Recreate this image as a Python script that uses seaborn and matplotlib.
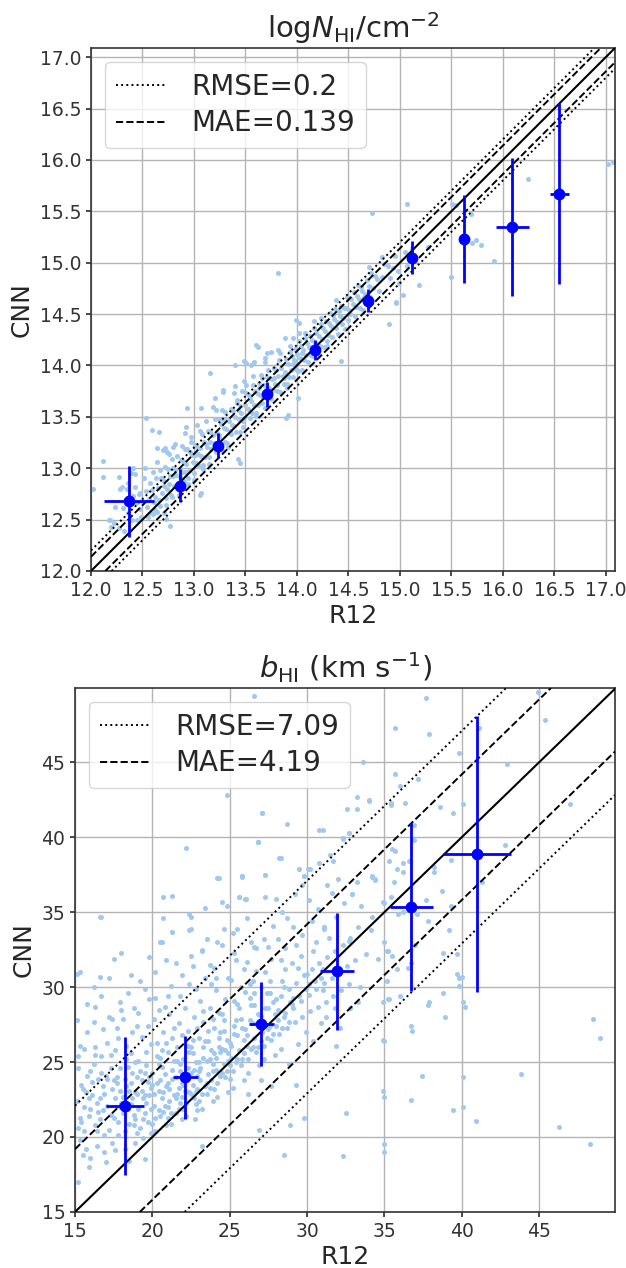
import matplotlib
matplotlib.use("Agg")
import matplotlib.pyplot as plt
import seaborn as sns
import pandas as pd

# ---------------- panel 1 : log N_HI ----------------
nhi_title = r"$\mathrm{log}N_{\rm HI}/{\rm cm}^{-2}$"
nhi_rmse = 0.2
nhi_mae = 0.139
nhi_lim = (12.0, 17.09)
nhi_ticks = [12.0, 12.5, 13.0, 13.5, 14.0, 14.5, 15.0, 15.5, 16.0, 16.5, 17.0]

nhi_bin_x = [12.37, 12.86, 13.23, 13.71, 14.18, 14.69, 15.12, 15.62, 16.09, 16.55]
nhi_bin_y = [12.68, 12.83, 13.22, 13.72, 14.15, 14.63, 15.05, 15.23, 15.35, 15.67]
nhi_bin_xerr = [0.245, 0.03, 0.03, 0.03, 0.03, 0.03, 0.03, 0.03, 0.16, 0.09]
nhi_bin_yerr = [0.345, 0.16, 0.12, 0.12, 0.10, 0.11, 0.16, 0.43, 0.67, 0.88]

nhi_points = [
    (12.22, 12.47), (12.23, 12.62), (12.27, 12.42), (12.28, 12.80), (12.31, 12.61), (12.32, 12.39), (12.35, 12.80), (12.36, 12.56),
    (12.40, 12.50), (12.41, 12.73), (12.39, 12.95), (12.44, 12.66), (12.45, 12.50), (12.43, 12.82), (12.47, 12.75), (12.48, 12.60),
    (12.50, 12.68), (12.51, 12.90), (12.49, 12.53), (12.53, 12.78), (12.54, 12.62), (12.52, 13.00), (12.55, 12.53),
    (12.56, 12.70), (12.57, 12.86), (12.58, 12.56), (12.59, 12.79), (12.60, 12.96), (12.61, 12.67), (12.60, 12.55),
    (12.62, 12.72), (12.63, 12.90), (12.64, 13.06), (12.62, 12.59), (12.65, 12.81), (12.66, 12.69), (12.67, 12.98), (12.64, 12.57),
    (12.68, 12.90), (12.69, 12.76), (12.70, 13.18), (12.67, 12.63), (12.71, 12.83), (12.72, 13.01), (12.73, 12.71), (12.70, 12.89),
    (12.74, 12.80), (12.75, 12.99), (12.76, 13.14), (12.73, 12.64), (12.77, 12.92), (12.78, 12.74), (12.79, 13.09), (12.76, 12.85),
    (12.80, 13.00), (12.81, 12.83), (12.82, 13.24), (12.79, 12.72), (12.80, 12.92), (12.83, 12.93), (12.84, 13.12), (12.85, 12.79), (12.82, 12.98),
    (12.86, 12.91), (12.87, 13.08), (12.88, 13.22), (12.85, 12.74), (12.86, 12.99), (12.89, 13.07), (12.90, 12.88), (12.91, 13.19), (12.88, 12.96),
    (12.92, 13.04), (12.93, 13.19), (12.94, 12.85), (12.91, 12.96), (12.92, 13.40), (12.95, 12.97), (12.96, 13.16), (12.97, 13.30), (12.94, 12.90),
    (12.98, 13.13), (12.99, 13.06), (13.00, 12.89), (12.97, 13.26), (13.01, 13.23), (13.02, 13.05), (13.03, 13.42), (13.00, 12.95), (13.01, 13.13),
    (13.04, 13.14), (13.05, 13.02), (13.06, 13.36), (13.03, 13.21), (13.07, 13.12), (13.08, 13.33), (13.09, 12.99), (13.06, 13.20), (13.07, 13.59),
    (13.10, 13.26), (13.11, 13.11), (13.12, 13.46), (13.09, 13.03), (13.13, 13.21), (13.14, 13.36), (13.15, 13.11), (13.12, 13.24),
    (13.16, 13.35), (13.17, 13.19), (13.18, 13.60), (13.15, 13.04), (13.16, 13.26), (13.19, 13.25), (13.20, 13.48), (13.21, 13.16), (13.18, 13.32),
    (13.22, 13.34), (13.23, 13.21), (13.24, 13.48), (13.21, 13.57), (13.25, 13.28), (13.26, 13.43), (13.27, 13.18), (13.24, 13.32),
    (13.28, 13.48), (13.29, 13.39), (13.30, 13.26), (13.27, 13.57), (13.28, 13.74), (13.31, 13.38), (13.32, 13.25), (13.33, 13.48), (13.30, 13.55),
    (13.34, 13.46), (13.35, 13.36), (13.36, 13.58), (13.33, 13.21), (13.37, 13.42), (13.38, 13.56), (13.39, 13.73), (13.36, 13.33),
    (13.40, 13.50), (13.41, 13.35), (13.42, 13.66), (13.39, 13.41), (13.40, 13.80), (13.43, 13.57), (13.44, 13.48), (13.45, 13.35), (13.42, 13.63),
    (13.46, 13.54), (13.47, 13.75), (13.48, 13.46), (13.45, 13.61), (13.49, 13.49), (13.50, 13.62), (13.51, 13.73), (13.48, 13.40), (13.49, 13.85),
    (13.52, 13.58), (13.53, 13.71), (13.54, 13.49), (13.51, 13.81), (13.55, 13.65), (13.56, 13.54), (13.57, 13.81), (13.54, 13.68),
    (13.58, 13.62), (13.59, 13.75), (13.60, 13.51), (13.57, 13.90), (13.58, 14.03), (13.61, 13.73), (13.62, 13.62), (13.63, 13.83), (13.60, 13.54),
    (13.64, 13.71), (13.65, 13.91), (13.66, 13.63), (13.63, 13.78), (13.67, 13.69), (13.68, 13.81), (13.69, 13.59), (13.66, 13.88),
    (13.70, 13.79), (13.71, 13.89), (13.72, 13.68), (13.69, 14.03), (13.73, 13.78), (13.74, 13.88), (13.75, 13.67), (13.72, 13.96),
    (13.76, 13.87), (13.77, 13.76), (13.78, 13.98), (13.75, 14.13), (13.79, 13.82), (13.80, 13.96), (13.81, 13.75), (13.78, 13.88),
    (13.82, 13.90), (13.83, 14.05), (13.84, 13.74), (13.81, 13.81), (13.85, 13.98), (13.86, 13.90), (13.87, 13.82), (13.84, 14.12),
    (13.88, 13.94), (13.89, 14.06), (13.90, 13.82), (13.87, 13.88), (13.91, 14.01), (13.92, 13.89), (13.93, 14.13), (13.90, 13.78),
    (13.94, 13.96), (13.95, 14.09), (13.96, 13.89), (13.93, 14.19), (13.97, 14.05), (13.98, 14.16), (13.99, 13.97), (13.96, 14.01),
    (14.00, 14.11), (14.01, 13.95), (14.02, 14.24), (13.99, 14.02), (14.03, 14.07), (14.04, 14.19), (14.05, 13.96), (14.02, 14.32),
    (14.06, 14.15), (14.07, 14.05), (14.08, 14.27), (14.05, 14.12), (14.09, 14.10), (14.10, 14.22), (14.11, 14.03), (14.08, 14.32),
    (14.12, 14.18), (14.13, 14.29), (14.14, 14.10), (14.15, 14.25), (14.16, 14.09), (14.17, 14.36), (14.14, 14.18),
    (14.18, 14.22), (14.19, 14.32), (14.20, 14.10), (14.17, 14.43), (14.21, 14.29), (14.22, 14.19), (14.23, 14.40),
    (14.24, 14.26), (14.25, 14.36), (14.26, 14.18), (14.23, 14.46), (14.27, 14.34), (14.28, 14.43), (14.29, 14.24),
    (14.30, 14.30), (14.31, 14.41), (14.32, 14.51), (14.29, 14.19), (14.33, 14.38), (14.34, 14.28), (14.35, 14.49),
    (14.36, 14.45), (14.37, 14.55), (14.38, 14.36), (14.39, 14.42), (14.40, 14.31), (14.41, 14.53), (14.38, 14.64),
    (14.42, 14.48), (14.43, 14.58), (14.44, 14.40), (14.45, 14.46), (14.46, 14.56), (14.47, 14.35),
    (14.48, 14.56), (14.49, 14.67), (14.50, 14.44), (14.51, 14.54), (14.52, 14.50), (14.53, 14.65),
    (14.54, 14.60), (14.55, 14.71), (14.56, 14.48), (14.57, 14.57), (14.58, 14.68), (14.59, 14.78),
    (14.60, 14.65), (14.61, 14.56), (14.62, 14.76), (14.63, 14.72), (14.64, 14.54), (14.65, 14.67),
    (14.66, 14.70), (14.68, 14.83), (14.70, 14.77), (14.71, 14.67), (14.72, 14.90),
    (14.74, 14.75), (14.76, 14.87), (14.78, 14.84), (14.80, 14.72), (14.83, 14.86), (14.85, 14.99),
    (14.88, 14.97), (14.90, 14.85), (14.93, 14.95), (14.95, 15.07), (14.98, 14.92), (15.05, 15.10), (15.07, 14.97), (15.12, 15.14),
    # scattered points away from the band
    (13.82, 14.90), (14.73, 15.48), (15.07, 15.57), (16.24, 15.81), (17.02, 15.96), (17.07, 15.98), (15.91, 15.02),
    (15.50, 14.86), (15.74, 15.22), (15.79, 15.17), (15.70, 15.19), (15.69, 15.47), (15.55, 15.56), (15.03, 14.69),
    (14.96, 14.62), (15.19, 14.78), (14.99, 14.80), (14.70, 14.96), (14.83, 15.06), (15.27, 15.15), (15.51, 15.57),
    (13.99, 14.44), (14.02, 14.41), (14.89, 14.40), (14.96, 14.61), (14.43, 14.04), (13.91, 13.52), (13.89, 13.49),
    (13.16, 13.93), (12.93, 13.59), (12.53, 13.49), (12.59, 13.37), (12.66, 13.35), (12.12, 12.91), (12.27, 12.91),
    (12.02, 12.80), (12.12, 13.07), (12.18, 12.50), (12.19, 12.43), (13.45, 13.05), (13.43, 13.09), (12.43, 12.94),
    (12.77, 12.44), (13.06, 12.74), (13.07, 12.76), (12.71, 12.56), (12.73, 12.51), (13.51, 14.02), (13.60, 14.20),
    (13.82, 14.15), (13.69, 14.07), (13.96, 14.27), (13.88, 14.27), (13.62, 14.18), (13.71, 14.12), (13.55, 14.00),
    (13.40, 14.00), (13.49, 14.04), (14.01, 13.68), (12.48, 12.76), (12.17, 12.50), (12.91, 13.34), (13.28, 13.76),
    (13.20, 13.68), (12.80, 13.21), (12.72, 13.20), (12.74, 13.16), (12.64, 13.20), (12.41, 13.00), (12.30, 12.82),
    (12.36, 12.86),
]

# ---------------- panel 2 : b_HI ----------------
b_title = r"$b_{\rm HI}$ (km s$^{-1}$)"
b_rmse = 7.09
b_mae = 4.19
b_xlim = (15.0, 49.9)
b_ylim = (15.0, 49.95)
b_ticks = [15, 20, 25, 30, 35, 40, 45]

b_bin_x = [18.22, 22.12, 27.04, 31.95, 36.73, 41.00]
b_bin_y = [22.09, 23.97, 27.52, 31.04, 35.37, 38.88]
b_bin_xerr = [1.22, 0.80, 0.80, 1.10, 1.40, 2.20]
b_bin_yerr = [4.60, 2.75, 2.80, 3.90, 5.60, 9.20]

b_points = [
    (15.1, 22.4), (15.3, 19.8), (15.2, 24.6), (15.1, 27.8), (15.3, 21.3), (15.2, 17.0), (15.4, 23.5), (15.1, 30.9), (15.3, 26.1), (15.2, 20.6),
    (15.6, 22.0), (15.8, 24.1), (15.7, 19.2), (15.9, 21.4), (15.6, 25.9), (15.8, 28.9), (15.7, 23.0), (15.9, 18.0), (15.6, 20.4), (15.8, 27.0),
    (16.1, 22.8), (16.3, 20.8), (16.2, 24.9), (16.0, 21.9), (16.4, 19.4), (16.2, 27.7), (16.1, 23.7), (16.3, 26.0), (16.2, 30.0), (16.4, 22.3), (16.0, 18.6),
    (16.6, 21.2), (16.8, 23.4), (16.7, 25.4), (16.9, 20.1), (16.6, 22.6), (16.8, 27.2), (16.7, 24.3), (16.9, 19.0), (16.6, 34.7), (16.8, 21.8), (16.7, 29.4),
    (17.1, 22.1), (17.3, 24.6), (17.2, 20.5), (17.4, 23.2), (17.1, 26.3), (17.3, 21.5), (17.2, 28.0), (17.4, 19.6), (17.1, 23.9), (17.3, 25.5), (17.2, 30.6), (17.0, 18.3),
    (17.6, 22.6), (17.8, 21.0), (17.7, 24.0), (17.9, 23.1), (17.6, 25.8), (17.8, 20.1), (17.7, 27.3), (17.9, 22.0), (17.6, 19.1), (17.8, 26.6), (17.7, 23.6), (17.9, 29.0),
    (18.1, 21.6), (18.3, 23.4), (18.2, 20.4), (18.4, 24.7), (18.1, 22.7), (18.3, 26.1), (18.2, 19.2), (18.4, 21.9), (18.1, 27.9), (18.3, 25.2), (18.0, 32.3), (18.4, 29.6), (18.2, 23.9),
    (18.6, 22.2), (18.8, 20.8), (18.7, 24.3), (18.9, 23.0), (18.6, 25.6), (18.8, 21.5), (18.7, 27.0), (18.9, 19.6), (18.6, 23.6), (18.8, 28.6), (18.7, 22.6), (18.9, 25.0), (18.5, 18.4),
    (19.1, 21.9), (19.3, 23.8), (19.2, 20.6), (19.4, 22.6), (19.1, 25.1), (19.3, 26.7), (19.2, 24.4), (19.4, 21.2), (19.1, 28.3), (19.3, 23.1), (19.2, 30.4), (19.4, 19.9), (19.0, 22.9),
    (19.6, 22.3), (19.8, 24.0), (19.7, 21.0), (19.9, 23.3), (19.6, 25.7), (19.8, 22.8), (19.7, 27.4), (19.9, 20.3), (19.6, 24.8), (19.8, 29.2), (19.7, 23.7), (19.9, 26.2), (19.5, 21.6),
    (20.1, 22.1), (20.3, 23.6), (20.2, 21.3), (20.4, 24.9), (20.1, 22.9), (20.3, 26.3), (20.2, 20.4), (20.4, 23.1), (20.1, 27.9), (20.3, 25.4), (20.2, 31.0), (20.0, 24.3), (20.4, 21.8), (20.2, 29.3),
    (20.6, 22.6), (20.8, 24.2), (20.7, 21.7), (20.9, 23.4), (20.6, 25.8), (20.8, 22.1), (20.7, 27.0), (20.9, 20.8), (20.6, 24.7), (20.8, 28.7), (20.7, 23.0), (20.9, 26.3), (20.5, 33.0), (20.7, 36.0),
    (21.1, 22.4), (21.3, 23.9), (21.2, 21.6), (21.4, 25.1), (21.1, 23.2), (21.3, 26.6), (21.2, 20.9), (21.4, 22.8), (21.1, 28.2), (21.3, 24.5), (21.2, 30.1), (21.0, 22.0), (21.4, 27.3), (21.3, 33.7), (21.3, 36.1),
    (21.6, 22.9), (21.8, 24.4), (21.7, 21.9), (21.9, 23.6), (21.6, 26.0), (21.8, 22.3), (21.7, 27.6), (21.9, 21.2), (21.6, 25.1), (21.8, 29.4), (21.7, 23.3), (21.9, 26.8), (21.5, 31.6), (21.8, 24.9),
    (22.1, 23.1), (22.3, 24.6), (22.2, 22.3), (22.4, 25.7), (22.1, 23.8), (22.3, 27.1), (22.2, 21.4), (22.4, 23.0), (22.1, 28.6), (22.3, 26.1), (22.2, 39.3), (22.0, 24.2), (22.4, 30.2), (22.5, 34.7), (22.5, 33.9),
    (22.6, 23.5), (22.8, 25.0), (22.7, 22.6), (22.9, 24.1), (22.6, 26.5), (22.8, 23.0), (22.7, 28.0), (22.9, 21.8), (22.6, 25.6), (22.8, 29.9), (22.7, 24.5), (22.9, 27.3), (22.5, 32.1), (22.8, 22.2),
    (23.1, 23.8), (23.3, 25.3), (23.2, 22.9), (23.4, 26.4), (23.1, 24.6), (23.3, 27.7), (23.2, 21.9), (23.4, 23.4), (23.1, 29.1), (23.3, 26.0), (23.2, 32.4), (23.0, 25.0), (23.4, 30.6), (23.2, 19.4),
    (23.6, 24.2), (23.8, 25.8), (23.7, 23.3), (23.9, 24.9), (23.6, 27.1), (23.8, 23.8), (23.7, 28.6), (23.9, 22.4), (23.6, 26.4), (23.8, 30.2), (23.7, 25.2), (23.9, 27.9), (23.5, 33.2), (23.7, 31.5),
    (24.1, 24.5), (24.3, 26.0), (24.2, 23.6), (24.4, 27.0), (24.1, 25.3), (24.3, 28.3), (24.2, 22.7), (24.4, 24.1), (24.1, 29.8), (24.3, 26.6), (24.2, 37.3), (24.0, 31.3), (24.4, 25.7), (24.5, 35.7),
    (24.6, 24.9), (24.8, 26.5), (24.7, 24.0), (24.9, 25.6), (24.6, 27.8), (24.8, 24.4), (24.7, 29.2), (24.9, 23.0), (24.6, 27.1), (24.8, 42.8), (24.7, 25.8), (24.9, 30.6), (24.5, 32.8), (24.8, 35.4),
    (25.1, 25.3), (25.3, 26.9), (25.2, 24.4), (25.4, 27.8), (25.1, 26.1), (25.3, 29.1), (25.2, 23.3), (25.4, 25.0), (25.1, 30.5), (25.3, 27.4), (25.2, 33.6), (25.0, 24.8), (25.4, 31.8),
    (25.6, 25.8), (25.8, 27.3), (25.7, 24.8), (25.9, 26.5), (25.6, 28.6), (25.8, 25.2), (25.7, 30.0), (25.9, 23.8), (25.6, 36.0), (25.8, 37.4), (25.7, 27.9), (25.9, 31.2), (25.5, 33.9),
    (26.1, 26.1), (26.3, 27.8), (26.2, 25.2), (26.4, 28.8), (26.1, 26.8), (26.3, 30.2), (26.2, 24.3), (26.4, 25.9), (26.1, 31.7), (26.3, 29.3), (26.0, 35.9), (26.4, 33.0), (26.2, 22.9),
    (26.6, 26.6), (26.8, 28.2), (26.7, 25.7), (26.9, 27.4), (26.6, 29.6), (26.8, 26.0), (26.7, 31.1), (26.9, 24.8), (26.6, 28.8), (26.8, 39.7), (26.7, 32.6), (26.6, 49.4), (26.9, 20.5),
    (27.1, 27.0), (27.3, 28.6), (27.2, 26.1), (27.4, 29.6), (27.1, 27.7), (27.3, 31.0), (27.2, 25.2), (27.4, 26.6), (27.1, 41.6), (27.3, 36.0), (27.3, 37.5), (27.2, 33.2), (27.0, 23.8),
    (27.6, 27.4), (27.8, 29.0), (27.7, 26.5), (27.9, 28.2), (27.6, 30.4), (27.8, 26.9), (27.7, 31.9), (27.9, 25.5), (27.6, 29.6), (27.8, 34.1), (27.7, 23.4),
    (28.1, 27.8), (28.3, 29.4), (28.2, 26.9), (28.4, 30.4), (28.1, 28.5), (28.3, 31.8), (28.2, 38.6), (28.4, 27.3), (28.1, 33.2), (28.3, 25.9), (28.5, 18.8), (28.4, 35.0),
    (28.6, 28.3), (28.8, 29.9), (28.7, 27.3), (28.9, 29.0), (28.6, 31.2), (28.8, 27.7), (28.7, 40.9), (28.9, 20.8), (28.6, 32.6), (28.8, 24.9), (28.7, 34.6),
    (29.1, 28.6), (29.3, 30.3), (29.2, 27.7), (29.4, 31.3), (29.1, 29.3), (29.3, 32.8), (29.2, 36.2), (29.4, 26.2), (29.1, 34.0), (29.3, 23.5),
    (29.6, 29.1), (29.8, 30.8), (29.7, 28.0), (29.9, 29.9), (29.6, 32.1), (29.8, 37.4), (29.7, 33.5), (29.9, 27.0), (29.5, 37.9), (29.8, 21.3),
    (30.1, 29.5), (30.3, 31.2), (30.2, 28.4), (30.4, 32.4), (30.1, 30.2), (30.3, 34.4), (30.2, 37.9), (30.4, 26.4), (30.1, 35.8),
    (30.6, 29.9), (30.8, 31.6), (30.7, 28.7), (30.9, 30.6), (30.6, 33.0), (30.8, 40.5), (30.7, 35.2), (30.9, 27.6), (30.8, 38.3),
    (31.1, 30.3), (31.3, 32.0), (31.2, 29.0), (31.4, 33.3), (31.1, 34.0), (31.3, 36.8), (31.2, 28.0), (31.0, 31.2), (31.1, 33.9),
    (31.6, 30.6), (31.8, 32.4), (31.7, 29.4), (31.9, 34.7), (31.6, 36.3), (31.8, 28.6), (31.7, 38.4), (31.9, 26.1),
    (32.1, 31.0), (32.3, 32.8), (32.2, 29.8), (32.4, 35.6), (32.3, 39.9), (32.1, 27.3), (32.3, 18.7), (32.5, 21.6), (32.0, 37.2),
    (32.6, 31.4), (32.8, 33.3), (32.7, 30.2), (32.9, 36.2), (32.7, 40.3), (32.6, 41.9), (32.8, 28.6), (32.7, 33.1),
    (33.1, 31.8), (33.3, 34.0), (33.2, 42.7), (33.4, 30.0), (33.2, 37.0), (33.6, 45.0), (33.5, 35.4), (33.3, 29.0),
    (33.8, 32.2), (34.0, 42.4), (34.2, 37.4), (34.4, 37.2), (34.1, 33.8), (34.6, 31.9), (34.9, 26.5), (35.0, 22.7), (35.0, 19.0),
    (34.9, 35.7), (35.0, 33.0), (35.15, 32.4), (35.15, 30.4), (34.93, 29.0), (35.26, 29.2),
    (35.7, 47.3), (35.7, 44.2), (36.0, 43.4), (36.3, 42.3), (35.4, 42.3), (36.9, 39.8), (36.9, 40.8), (37.7, 49.3), (37.9, 46.9),
    (38.2, 38.0), (38.6, 42.0), (38.7, 36.4), (39.4, 41.6), (39.8, 45.6), (40.1, 42.2), (41.1, 47.3), (42.9, 44.9), (42.8, 39.5),
    (44.9, 49.7), (45.4, 47.8), (47.0, 42.2), (39.3, 38.5), (37.2, 43.9), (34.0, 42.5), (35.4, 42.15), (31.5, 38.8),
    (29.7, 36.8), (32.9, 36.2), (34.2, 34.7), (35.0, 35.6), (35.8, 37.9), (36.2, 37.7), (39.2, 33.8), (37.7, 35.8), (39.7, 32.2),
    (40.0, 30.7), (38.8, 29.6), (37.8, 28.8), (35.5, 39.2), (35.7, 39.1), (35.3, 38.4), (36.2, 38.3), (36.6, 38.4), (35.6, 37.0),
    (35.4, 36.0), (35.9, 34.9), (36.2, 35.0), (37.1, 34.9), (37.8, 34.4), (35.2, 32.4), (35.5, 32.1), (35.8, 31.2), (36.5, 31.3),
    (36.7, 31.6), (37.0, 32.8), (35.3, 29.2), (36.0, 29.4), (39.3, 35.4), (41.3, 37.0), (38.2, 37.7),
    (37.4, 24.1), (43.8, 24.2), (40.1, 24.0), (34.9, 23.1), (36.7, 22.5), (39.4, 21.8), (40.1, 22.0), (40.9, 21.1), (46.3, 20.7),
    (48.3, 19.5), (35.0, 19.5), (48.5, 27.9), (48.9, 26.6), (36.7, 27.4), (37.9, 29.0), (40.1, 29.0), (38.9, 28.0), (39.8, 30.1),
    (39.7, 30.9), (38.8, 32.3), (40.2, 28.7), (39.8, 30.6), (35.0, 26.4), (36.8, 27.1), (19.5, 18.5), (22.75, 21.2),
    (16.7, 34.7), (20.7, 34.6), (22.4, 33.8), (22.4, 34.9), (23.4, 35.3), (26.6, 32.7), (15.3, 31.0), (16.6, 30.7), (20.6, 33.0),
    (23.2, 32.5), (24.2, 33.0), (21.3, 33.7), (24.3, 37.3), (25.6, 36.0), (26.05, 35.9), (25.8, 37.4), (26.8, 39.7), (27.1, 41.6),
    (28.3, 38.6), (29.5, 37.9), (30.06, 37.9), (29.8, 37.4), (31.0, 40.5), (31.1, 34.0), (32.3, 39.95), (32.7, 40.3), (33.2, 41.9),
    (34.2, 37.37), (34.4, 37.15), (26.8, 39.7), (27.3, 37.5), (25.8, 37.37),
    # extra points filling the dense core
    (16.5, 21.7), (16.9, 22.9), (17.0, 24.1), (17.5, 21.3), (17.5, 23.8), (17.9, 24.6), (18.0, 22.3), (18.5, 23.1), (18.5, 20.9),
    (18.9, 21.2), (19.0, 24.0), (19.0, 20.3), (19.5, 22.8), (19.5, 24.3), (19.9, 21.9), (20.0, 23.5), (20.0, 20.9), (20.5, 21.4),
    (20.5, 23.8), (20.5, 25.3), (21.0, 21.3), (21.0, 23.6), (21.0, 25.7), (21.5, 22.6), (21.5, 24.0), (21.5, 21.6), (21.9, 22.7),
    (22.0, 23.5), (22.0, 25.2), (22.0, 21.9), (22.5, 22.9), (22.5, 24.3), (22.5, 26.0), (22.9, 23.2), (23.0, 24.4), (23.0, 22.4),
    (23.0, 26.6), (23.5, 23.6), (23.5, 25.1), (23.5, 22.9), (23.9, 24.4), (24.0, 25.6), (24.0, 23.2), (24.0, 27.3), (24.5, 24.3),
    (24.5, 25.9), (24.5, 28.2), (24.9, 25.1), (25.0, 26.3), (25.0, 23.9), (25.5, 25.2), (25.5, 26.8), (25.5, 28.9), (25.9, 25.6),
    (26.0, 27.2), (26.0, 29.7), (26.5, 26.0), (26.5, 27.6), (26.5, 30.4), (27.0, 26.4), (27.0, 28.1), (27.0, 30.0), (27.5, 27.2),
    (27.5, 28.6), (28.0, 27.4), (28.0, 29.2), (28.5, 28.0), (28.5, 30.0), (29.0, 28.9), (29.0, 31.6), (29.5, 29.4), (30.0, 30.9),
    (30.5, 30.4), (31.0, 29.8), (15.4, 21.0), (15.5, 23.2), (15.9, 22.6), (16.0, 24.4), (16.4, 20.4), (16.5, 23.9), (15.2, 25.4),
    (15.5, 18.8), (16.3, 25.5), (17.4, 27.9), (18.0, 28.5), (19.0, 27.4), (19.5, 29.9), (20.4, 28.5), (21.0, 29.4), (21.9, 30.8),
    (22.6, 31.4), (23.3, 28.4), (24.1, 30.6), (24.6, 33.9), (25.3, 32.3), (26.1, 34.6), (27.5, 32.7), (28.0, 35.9), (18.6, 30.8),
    (17.5, 31.9), (16.3, 28.7), (19.8, 32.0), (20.9, 31.8),
]

# ---------------- styling ----------------
sns.set_theme(style="whitegrid")
plt.rcParams.update({
    "font.family": ["DejaVu Sans"],
    "axes.edgecolor": "0.2",
    "axes.linewidth": 1.2,
    "grid.color": "#b4b4b4",
    "grid.linewidth": 1.0,
    "xtick.bottom": True,
    "ytick.left": True,
    "xtick.color": "0.2",
    "ytick.color": "0.2",
    "xtick.major.size": 3.5,
    "ytick.major.size": 3.5,
    "xtick.labelsize": 13.5,
    "ytick.labelsize": 13.5,
})

SCATTER_C = "#a0c8f0"
BIN_C = "#0000ff"

fig = plt.figure(figsize=(6.26, 12.68), dpi=100)
ax1 = fig.add_axes([0.1454, 0.5497, 0.8371, 0.4125])
ax2 = fig.add_axes([0.1198, 0.0442, 0.8626, 0.4132])


def draw_panel(ax, points, bx, by, bxe, bye, rmse, mae, xlim, ylim, ticks, title):
    df = pd.DataFrame(points, columns=["R12", "CNN"])
    sns.scatterplot(data=df, x="R12", y="CNN", ax=ax, color=SCATTER_C, s=13,
                    linewidth=0, zorder=2, legend=False)
    ax.axline((0, 0), slope=1, color="black", lw=1.5, zorder=3)
    ax.axline((0, rmse), slope=1, color="black", lw=1.4, ls=":", zorder=3,
              label=f"RMSE={rmse:g}")
    ax.axline((0, -rmse), slope=1, color="black", lw=1.4, ls=":", zorder=3)
    ax.axline((0, mae), slope=1, color="black", lw=1.4, ls="--", zorder=3,
              label=f"MAE={mae:g}")
    ax.axline((0, -mae), slope=1, color="black", lw=1.4, ls="--", zorder=3)
    ax.errorbar(bx, by, xerr=bxe, yerr=bye, fmt="o", color=BIN_C, ms=7.5,
                elinewidth=2, capsize=0, zorder=4)
    ax.set_xlim(*xlim)
    ax.set_ylim(*ylim)
    ax.set_xticks(ticks)
    ax.set_yticks(ticks)
    ax.set_xlabel("R12", fontsize=18, labelpad=3)
    ax.set_ylabel("CNN", fontsize=18)
    ax.set_title(title, fontsize=21, pad=7)
    ax.grid(True, zorder=0)
    ax.set_axisbelow(True)
    for sp in ax.spines.values():
        sp.set_visible(True)
        sp.set_color("0.2")
    leg = ax.legend(loc="upper left", fontsize=20, handlelength=1.85,
                    handletextpad=0.85, borderpad=0.4, labelspacing=0.3,
                    borderaxespad=0.5, frameon=True, fancybox=True)
    leg.get_frame().set_edgecolor("0.8")
    leg.get_frame().set_alpha(0.8)


draw_panel(ax1, nhi_points, nhi_bin_x, nhi_bin_y, nhi_bin_xerr, nhi_bin_yerr,
           nhi_rmse, nhi_mae, nhi_lim, nhi_lim, nhi_ticks, nhi_title)
ax1.set_xticklabels([f"{t:.1f}" for t in nhi_ticks])
ax1.set_yticklabels([f"{t:.1f}" for t in nhi_ticks])

draw_panel(ax2, b_points, b_bin_x, b_bin_y, b_bin_xerr, b_bin_yerr,
           b_rmse, b_mae, b_xlim, b_ylim, b_ticks, b_title)

fig.savefig("out.png", dpi=100)
